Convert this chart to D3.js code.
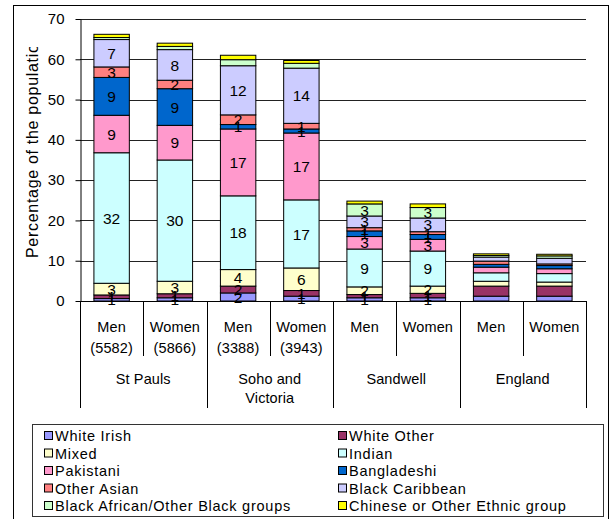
<!DOCTYPE html>
<html>
<head>
<meta charset="utf-8">
<script src="https://cdn.jsdelivr.net/npm/d3@7"></script>
<style>
  body { margin: 0; background: #fff; }
  svg { font-family: "Liberation Sans", Arial, sans-serif; }
</style>
</head>
<body>
<svg width="611" height="519"></svg>
<script>
// bar labels, left to right
let sexes = ["Men", "Women", "Men", "Women", "Men", "Women", "Men", "Women"];
let sampleSizes = ["(5582)", "(5866)", "(3388)", "(3943)", "", "", "", ""];
let areas = [["St Pauls"], ["Soho and", "Victoria"], ["Sandwell"], ["England"]];

let seriesNames = ["White Irish", "White Other", "Mixed", "Indian", "Pakistani",
    "Bangladeshi", "Other Asian", "Black Caribbean",
    "Black African/Other Black groups", "Chinese or Other Ethnic group"];
let seriesColors = ["#9999ff", "#993366", "#ffffcc", "#ccffff", "#ff99cc",
    "#0066cc", "#ff8080", "#ccccff", "#ccffcc", "#ffff00"];

// percentages per bar, one array per series
let whiteIrish     = [0.6, 0.8, 2.0, 1.2, 0.8, 0.8, 1.2, 1.2];
let whiteOther     = [0.9, 1.0, 1.7, 1.4, 0.8, 1.1, 2.5, 2.5];
let mixed          = [2.9, 3.1, 4.1, 5.6, 1.9, 1.8, 1.2, 1.0];
let indian         = [32.4, 30.1, 18.3, 16.9, 9.4, 8.7, 2.1, 2.1];
let pakistani      = [9.3, 8.6, 16.6, 16.6, 3.1, 2.9, 1.4, 1.2];
let bangladeshi    = [9.4, 9.1, 1.1, 1.0, 1.4, 1.2, 0.7, 0.8];
let otherAsian     = [2.6, 2.1, 2.4, 1.4, 0.8, 0.7, 0.8, 0.4];
let blackCaribbean = [6.8, 7.6, 12.2, 13.7, 2.9, 3.4, 1.0, 1.4];
let blackAfrican   = [0.5, 0.8, 1.5, 1.2, 3.0, 2.6, 0.4, 0.6];
let chinese        = [0.8, 0.8, 1.1, 0.7, 0.7, 0.9, 0.4, 0.4];

let yTicks = [0, 10, 20, 30, 40, 50, 60, 70];

let seriesValues = [whiteIrish, whiteOther, mixed, indian, pakistani,
    bangladeshi, otherAsian, blackCaribbean, blackAfrican, chinese];

let rows = sexes.map((s, i) => {
    let row = { index: i };
    seriesNames.forEach((name, k) => row[name] = seriesValues[k][i]);
    return row;
});

let svg = d3.select("svg");

let plotLeft = 80, plotRight = 586, plotTop = 19, plotBottom = 301;

let x = d3.scaleBand()
    .domain(d3.range(sexes.length))
    .range([plotLeft, plotRight])
    .paddingInner(0.44)
    .paddingOuter(0.22);

let y = d3.scaleLinear()
    .domain([0, 70])
    .range([plotBottom, plotTop]);

// outer frame
svg.append("rect")
    .attr("x", 13.5).attr("y", 5.5)
    .attr("width", 595).attr("height", 530)
    .attr("fill", "none").attr("stroke", "#000");

// gridlines
svg.append("g")
    .selectAll("line")
    .data(yTicks.slice(1))
    .enter()
    .append("line")
    .attr("x1", plotLeft).attr("x2", plotRight)
    .attr("y1", d => Math.round(y(d)) + 0.5)
    .attr("y2", d => Math.round(y(d)) + 0.5)
    .attr("stroke", "#222");

// stacked bars
let stack = d3.stack().keys(seriesNames);
let layers = stack(rows);

let layer = svg.append("g")
    .selectAll("g")
    .data(layers)
    .enter()
    .append("g")
    .attr("fill", (d, i) => seriesColors[i]);

layer.selectAll("rect")
    .data(d => d)
    .enter()
    .append("rect")
    .attr("x", d => x(d.data.index))
    .attr("y", d => y(d[1]))
    .attr("width", x.bandwidth())
    .attr("height", d => y(d[0]) - y(d[1]))
    .attr("stroke", "#000")
    .attr("stroke-width", 1);

// value labels
let labels = [];
layers.forEach((ly, k) => {
    ly.forEach(d => {
        let v = d[1] - d[0];
        let i = d.data.index;
        if (i >= 6) return;
        let show = (k <= 7 && Math.round(v) >= 1) || (k === 8 && v >= 2);
        if (show) labels.push({ i: i, mid: (d[0] + d[1]) / 2, text: Math.round(v) });
    });
});

svg.append("g")
    .selectAll("text")
    .data(labels)
    .enter()
    .append("text")
    .attr("x", d => x(d.i) + x.bandwidth() / 2)
    .attr("y", d => y(d.mid))
    .attr("dy", "0.36em")
    .attr("text-anchor", "middle")
    .attr("font-size", 15.5)
    .attr("fill", "#000")
    .text(d => d.text);

// y axis
let yAxis = svg.append("g")
    .attr("transform", `translate(${plotLeft + 0.5},0)`)
    .call(d3.axisLeft(y).tickValues(yTicks).tickSize(5).tickSizeOuter(0).tickPadding(11));
yAxis.select(".domain").attr("stroke", "#000");
yAxis.selectAll("line").attr("stroke", "#000");
yAxis.selectAll("text")
    .attr("font-size", 15)
    .attr("font-family", "Liberation Sans, Arial, sans-serif")
    .attr("fill", "#000");

// y axis title, clipped like the original
svg.append("clipPath").attr("id", "titleClip")
    .append("rect").attr("x", 0).attr("y", 47).attr("width", 80).attr("height", 260);
svg.append("g")
    .attr("clip-path", "url(#titleClip)")
    .append("text")
    .attr("transform", "translate(38,258) rotate(-90)")
    .attr("font-size", 16)
    .attr("letter-spacing", 0.7)
    .attr("fill", "#000")
    .text("Percentage of the population");

// x axis with two levels of categories
let step = x.step();
let axisG = svg.append("g").attr("stroke", "#000");
axisG.append("line")
    .attr("x1", plotLeft).attr("x2", plotRight)
    .attr("y1", plotBottom + 0.5).attr("y2", plotBottom + 0.5);
d3.range(sexes.length + 1).forEach(i => {
    let xx = Math.round(plotLeft + i * step) + 0.5;
    axisG.append("line")
        .attr("x1", xx).attr("x2", xx)
        .attr("y1", plotBottom)
        .attr("y2", i % 2 === 0 ? 408 : 356);
});

let xLabels = svg.append("g")
    .attr("font-size", 14.5)
    .attr("letter-spacing", 0.1)
    .attr("text-anchor", "middle")
    .attr("fill", "#000");

sexes.forEach((s, i) => {
    let cx = plotLeft + (i + 0.5) * step;
    xLabels.append("text").attr("x", cx).attr("y", 332).text(s);
    if (sampleSizes[i]) xLabels.append("text").attr("x", cx).attr("y", 353).text(sampleSizes[i]);
});

areas.forEach((lines, g) => {
    let cx = plotLeft + (g * 2 + 1) * step;
    lines.forEach((t, j) => {
        xLabels.append("text").attr("x", cx).attr("y", 384 + j * 19).text(t);
    });
});

// legend
let legend = svg.append("g");
legend.append("rect")
    .attr("x", 32.5).attr("y", 424.5)
    .attr("width", 571).attr("height", 92)
    .attr("fill", "#fff").attr("stroke", "#333");

let items = legend.selectAll("g")
    .data(seriesNames)
    .enter()
    .append("g")
    .attr("transform", (d, i) => `translate(${i % 2 === 0 ? 44 : 338},${436 + Math.floor(i / 2) * 17.5})`);

items.append("rect")
    .attr("x", 0.5).attr("y", -4.5)
    .attr("width", 8).attr("height", 8)
    .attr("fill", (d, i) => seriesColors[i])
    .attr("stroke", "#000");

items.append("text")
    .attr("x", 11)
    .attr("dy", "0.36em")
    .attr("font-size", 14.5)
    .attr("letter-spacing", 0.75)
    .attr("fill", "#000")
    .text(d => d);
</script>
</body>
</html>
